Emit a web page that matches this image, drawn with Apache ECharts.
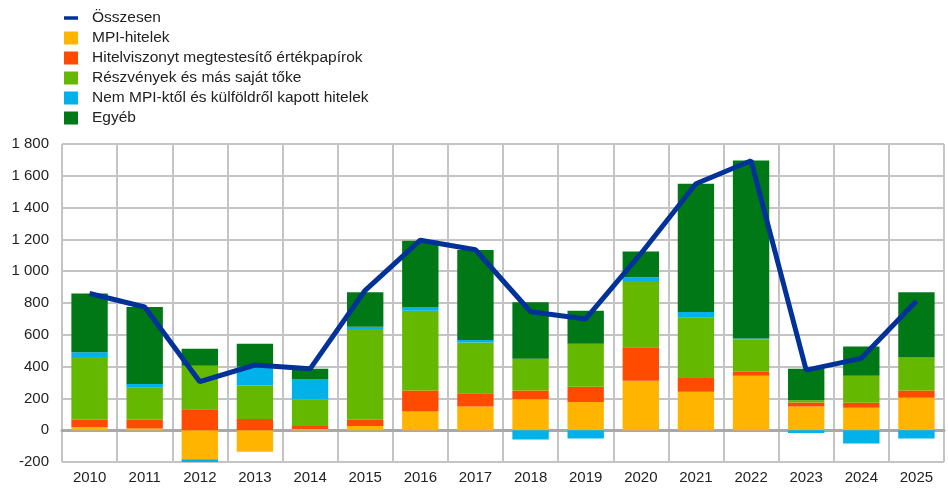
<!DOCTYPE html>
<html>
<head>
<meta charset="utf-8">
<script src="https://cdn.jsdelivr.net/npm/echarts@6/dist/echarts.min.js"></script>
<style>
  html, body { margin: 0; padding: 0; background: #fff; }
  #chart { width: 948px; height: 489px; }
</style>
</head>
<body>
<div id="chart"></div>
<script>
const years = ['2010', '2011', '2012', '2013', '2014', '2015', '2016', '2017', '2018', '2019', '2020', '2021', '2022', '2023', '2024', '2025']
const mpiLoans = [20, 10, -183, -136, 8, 27, 118, 149, 195, 178, 311, 242, 342, 149, 141, 204]
const debtSecurities = [45, 55, 132, 71, 19, 38, 132, 84, 55, 95, 210, 86, 26, 25, 31, 46]
const equity = [395, 202, 273, 210, 168, 571, 502, 319, 199, 271, 418, 380, 204, 15, 170, 208]
const nonMpiLoans = [30, 23, -17, 118, 124, 15, 23, 15, -59, -52, 23, 36, 4, -17, -84, -52]
const other = [370, 485, 107, 145, 67, 216, 416, 567, 355, 208, 162, 806, 1121, 197, 185, 409]
const total = [860, 775, 305, 410, 386, 880, 1195, 1135, 745, 700, 1110, 1550, 1695, 378, 452, 812]

const chart = echarts.init(document.getElementById('chart'))
const font = 'Liberation Sans, Arial, sans-serif'

const bar = (name, data, color) => ({
  name,
  type: 'bar',
  stack: 'all',
  barCategoryGap: '34%',
  data,
  itemStyle: { color },
  emphasis: { disabled: true },
})

chart.setOption({
  animation: false,
  textStyle: { fontFamily: font },
  legend: {
    orient: 'vertical',
    left: 59,
    top: 5,
    itemWidth: 14,
    itemHeight: 13,
    itemGap: 4,
    textStyle: { fontSize: 15.5, color: '#222', fontFamily: font, padding: [0, 0, 0, 9] },
    data: [
      { name: 'Összesen', icon: 'path://M0,0 L16,0 L16,4 L0,4 Z' },
      { name: 'MPI-hitelek', icon: 'rect' },
      { name: 'Hitelviszonyt megtestesítő értékpapírok', icon: 'rect' },
      { name: 'Részvények és más saját tőke', icon: 'rect' },
      { name: 'Nem MPI-ktől és külföldről kapott hitelek', icon: 'rect' },
      { name: 'Egyéb', icon: 'rect' },
    ],
  },
  grid: { left: 62, right: 4, top: 144, bottom: 27, containLabel: false },
  xAxis: {
    type: 'category',
    data: years,
    axisTick: { show: false },
    axisLine: { onZero: true, lineStyle: { color: '#a8a8a8', width: 3 } },
    axisLabel: { color: '#222', fontSize: 15, margin: 8, fontFamily: font },
    splitLine: { show: true, lineStyle: { color: '#c4c4c4', width: 2 } },
  },
  yAxis: {
    type: 'value',
    min: -200,
    max: 1800,
    interval: 200,
    axisLine: { show: false },
    axisTick: { show: false },
    axisLabel: {
      color: '#222',
      fontSize: 15,
      margin: 13,
      fontFamily: font,
      formatter: (v) => (Math.abs(v) >= 1000 ? String(v).replace(/(\d)(\d{3})$/, '$1 $2') : String(v)),
    },
    splitLine: { lineStyle: { color: '#c4c4c4', width: 2 } },
  },
  series: [
    bar('MPI-hitelek', mpiLoans, '#ffb400'),
    bar('Hitelviszonyt megtestesítő értékpapírok', debtSecurities, '#ff4b00'),
    bar('Részvények és más saját tőke', equity, '#65b800'),
    bar('Nem MPI-ktől és külföldről kapott hitelek', nonMpiLoans, '#00b1ea'),
    bar('Egyéb', other, '#007816'),
    {
      name: 'Összesen',
      type: 'line',
      data: total,
      symbol: 'none',
      z: 5,
      lineStyle: { color: '#003299', width: 5 },
      itemStyle: { color: '#003299' },
      emphasis: { disabled: true },
    },
  ],
})
</script>
</body>
</html>
